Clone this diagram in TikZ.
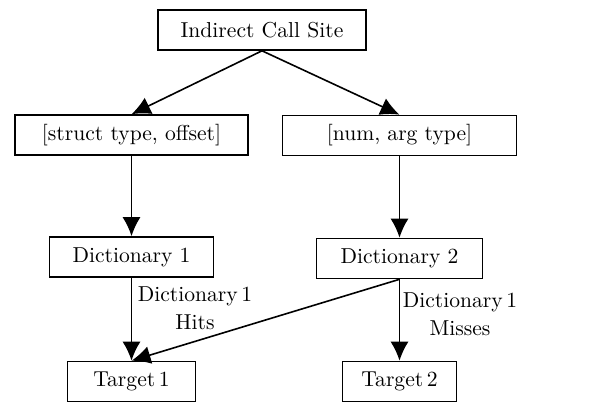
\documentclass[tikz,border=0pt]{standalone}
\usetikzlibrary{arrows.meta}
\begin{document}
\begin{tikzpicture}[x=0.5pt,y=-0.5pt,
  every node/.style={font=\fontsize{10.8pt}{14pt}\selectfont},
  box/.style={draw, line width=0.8pt, inner sep=0pt, minimum height=20pt},
  lbl/.style={align=center, inner sep=0pt},
  flow/.style={line width=0.8pt, -{Latex[length=9.5pt,width=9pt]}}]
\useasboundingbox (0,0) rectangle (592,401);
% boxes
\node[box, minimum width=104pt] (site) at (262,30) {Indirect Call Site};
\node[box, minimum width=116.5pt] (sto) at (131.5,135) {[struct type, offset]};
\node[box, minimum width=117pt] (nat) at (399.5,135.5) {[num, arg type]};
\node[box, minimum width=82pt] (dict1) at (131.5,257) {Dictionary 1};
\node[box, minimum width=83pt] (dict2) at (399.5,258.5) {Dictionary 2};
\node[box, minimum width=64pt] (tgt1) at (131.5,381.5) {Target\,1};
\node[box, minimum width=57pt] (tgt2) at (399.5,381.5) {Target\,2};
% connectors
\draw[flow] (site.south) -- (sto.north);
\draw[flow] (site.south) -- (nat.north);
\draw[flow] (sto.south) -- (dict1.north);
\draw[flow] (nat.south) -- (dict2.north);
\draw[flow] (dict1.south) -- (tgt1.north);
\draw[flow] (dict2.south) -- (tgt1.north);
\draw[flow] (dict2.south) -- (tgt2.north);
% edge labels
\node[lbl] (hits) at (195,308) {Dictionary\,1\\Hits};
\node[lbl] (misses) at (460,314.5) {Dictionary\,1\\Misses};
\end{tikzpicture}
\end{document}
